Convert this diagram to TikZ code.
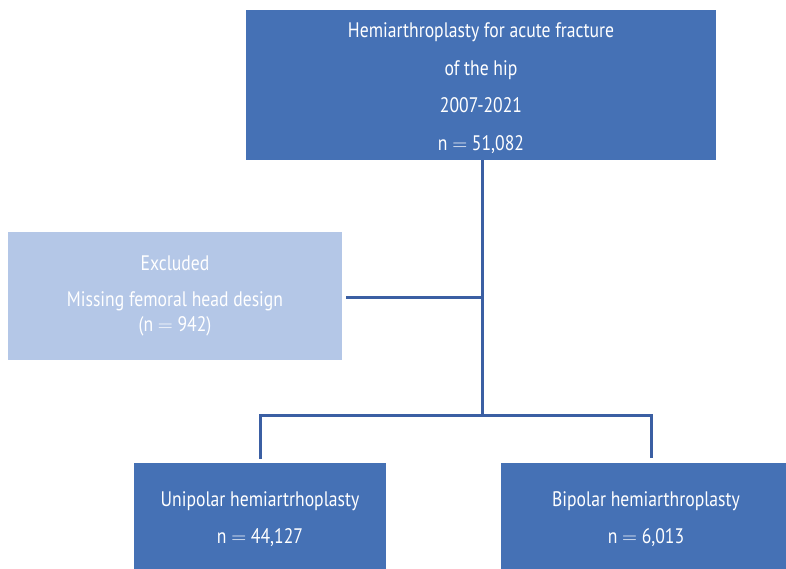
\documentclass[tikz,border=0pt]{standalone}
\usepackage{fontspec}
\setmainfont{PT Sans}[FakeStretch=0.84]
\definecolor{boxblue}{HTML}{4571B5}
\definecolor{lightblue}{HTML}{B4C7E7}
\definecolor{linkblue}{HTML}{3B5FA3}
\begin{document}
\begin{tikzpicture}[x=1pt,y=-1pt,
  box/.style={fill=boxblue,draw=none,inner sep=0pt,text=white,align=center,font=\fontsize{21}{37.5}\selectfont},
  lightbox/.style={box,fill=lightblue},
  link/.style={draw=linkblue,line width=3pt}]
\useasboundingbox (0,0) rectangle (786,569);
\clip (0,0) rectangle (786,569);
\node[box,minimum width=470pt,minimum height=150pt] (top) at (481,85) {};
\node[box,fill=none] (toptext) at (481,88)
  {Hemiarthroplasty for acute fracture\\of the hip\\2007-2021\\n $=$ 51,082};
\node[lightbox,minimum width=334pt,minimum height=128pt] (excl) at (175,296)
  {Excluded\\[-2pt]Missing femoral head design\\[-12pt](n $=$ 942)};
\node[box,minimum width=252pt,minimum height=112pt] (uni) at (260,519)
  {Unipolar hemiartrhoplasty\\n $=$ 44,127};
\node[box,minimum width=290pt,minimum height=112pt] (bi) at (646,519)
  {Bipolar hemiarthroplasty\\n $=$ 6,013};
\coordinate (j1) at (482,297);
\coordinate (j2) at (482,415);
\coordinate (ul) at (260,415);
\coordinate (ur) at (651,415);
\coordinate (ue) at (346,297);
\coordinate (ub) at (260,459);
\coordinate (bb) at (651,458);
\draw[link] (top.south -| j1) -- (j2);
\draw[link] (ue) -- (j1);
\draw[link] (ub) -- (ul) -- (ur) -- (bb);
\end{tikzpicture}
\end{document}
